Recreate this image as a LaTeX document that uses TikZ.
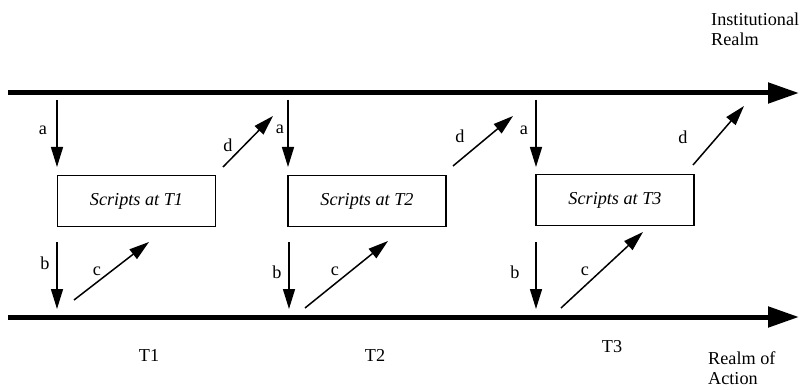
\documentclass[tikz,border=0pt]{standalone}
\usepackage{fontspec}
\setmainfont{Liberation Serif}
\usetikzlibrary{arrows.meta}
\tikzset{
  realm/.style={line width=5pt, -{Triangle[length=31pt,width=20pt]}},
  flow/.style={line width=1.5pt, -{Triangle[length=20pt,width=12pt]}},
  scriptbox/.style={draw, line width=1.2pt, minimum width=158pt, minimum height=51pt, inner sep=0pt, font=\fontsize{18.2}{21}\selectfont\itshape},
  lbl/.style={font=\fontsize{18.2}{21}\selectfont, inner sep=0pt},
  side/.style={font=\fontsize{18.2}{20}\selectfont, inner sep=0pt, align=left, anchor=west}
}
\begin{document}
\begin{tikzpicture}[x=1pt,y=-1pt]
\useasboundingbox (0,0) rectangle (803,390);
% realm lines
\coordinate (ts) at (8,93);
\coordinate (te) at (799,93);
\coordinate (bs) at (8,317);
\coordinate (be) at (799,317);
\draw[realm] (ts) -- (te);
\draw[realm] (bs) -- (be);
\node[side] (inst) at (711,29) {Institutional\\Realm};
\node[side] (act) at (708,368) {Realm of\\Action};
% boxes
\node[scriptbox] (s1) at (136.5,201) {Scripts at T1};
\node[scriptbox] (s2) at (367,201) {Scripts at T2};
\node[scriptbox] (s3) at (615,200) {Scripts at T3};
% time labels
\node[lbl] (t1) at (149,355) {T1};
\node[lbl] (t2) at (375,355) {T2};
\node[lbl] (t3) at (612,347) {T3};
% a arrows
\coordinate (a1s) at (57,100); \coordinate (a1e) at (57,167);
\coordinate (a2s) at (288,100); \coordinate (a2e) at (288,167);
\coordinate (a3s) at (536,100); \coordinate (a3e) at (536,167);
\draw[flow] (a1s) -- (a1e);
\draw[flow] (a2s) -- (a2e);
\draw[flow] (a3s) -- (a3e);
\node[lbl] (la1) at (43,130) {a};
\node[lbl] (la2) at (280,129) {a};
\node[lbl] (la3) at (524,130) {a};
% d arrows
\coordinate (d1s) at (223,167); \coordinate (d1e) at (273,116);
\coordinate (d2s) at (453,166); \coordinate (d2e) at (513,116);
\coordinate (d3s) at (693,165); \coordinate (d3e) at (744,106);
\draw[flow] (d1s) -- (d1e);
\draw[flow] (d2s) -- (d2e);
\draw[flow] (d3s) -- (d3e);
\node[lbl] (ld1) at (228,145) {d};
\node[lbl] (ld2) at (460,136) {d};
\node[lbl] (ld3) at (683,137) {d};
% b arrows
\coordinate (b1s) at (57,242); \coordinate (b1e) at (57,309);
\coordinate (b2s) at (289,242); \coordinate (b2e) at (289,309);
\coordinate (b3s) at (536,242); \coordinate (b3e) at (536,309);
\draw[flow] (b1s) -- (b1e);
\draw[flow] (b2s) -- (b2e);
\draw[flow] (b3s) -- (b3e);
\node[lbl] (lb1) at (45,263) {b};
\node[lbl] (lb2) at (277,272) {b};
\node[lbl] (lb3) at (515,272) {b};
% c arrows
\coordinate (c1s) at (74,300); \coordinate (c1e) at (149,242);
\coordinate (c2s) at (305,308); \coordinate (c2e) at (388,241);
\coordinate (c3s) at (561,308); \coordinate (c3e) at (643,232);
\draw[flow] (c1s) -- (c1e);
\draw[flow] (c2s) -- (c2e);
\draw[flow] (c3s) -- (c3e);
\node[lbl] (lc1) at (97,271) {c};
\node[lbl] (lc2) at (335,271) {c};
\node[lbl] (lc3) at (585,271) {c};
\end{tikzpicture}
\end{document}
